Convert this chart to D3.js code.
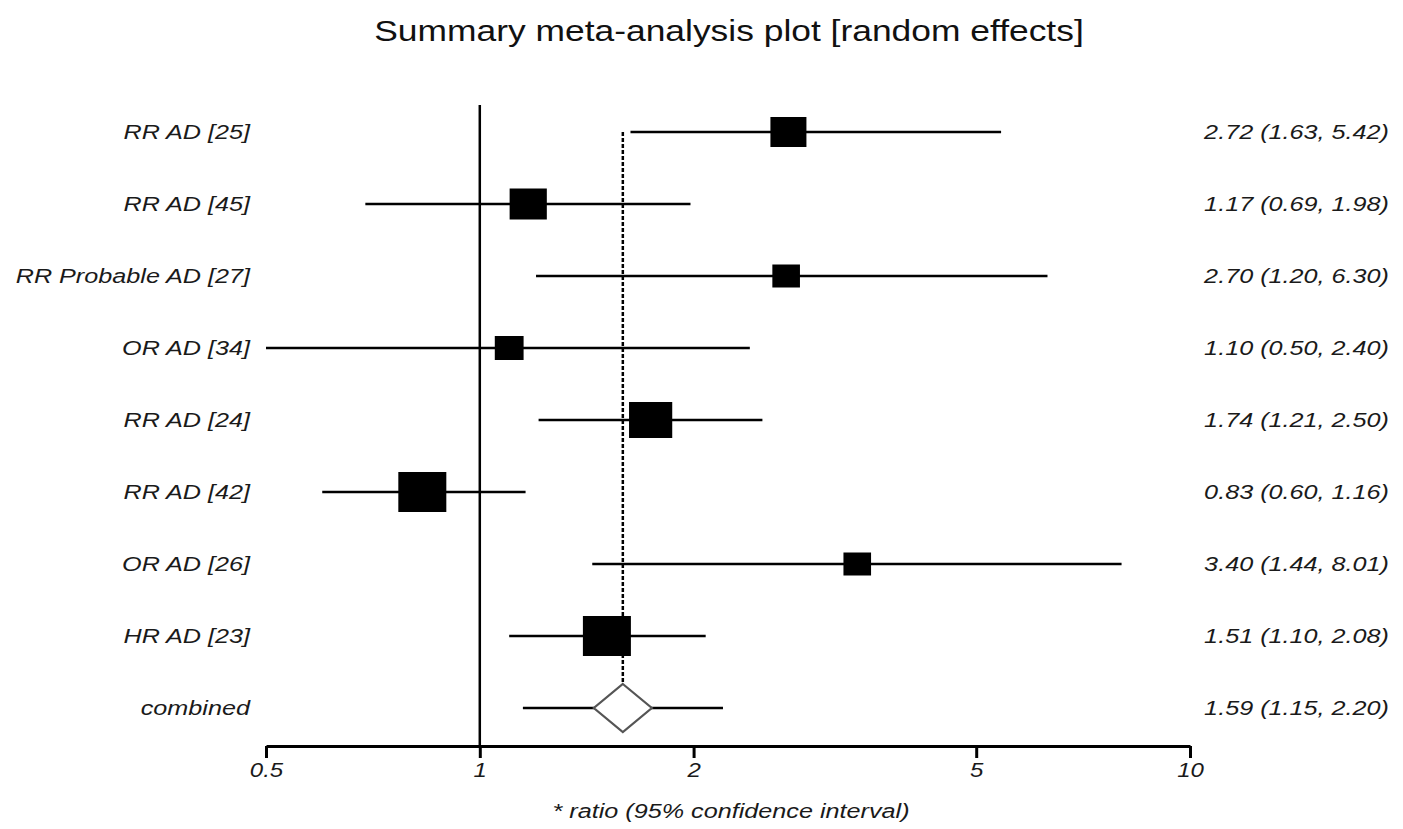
<!DOCTYPE html>
<html>
<head>
<meta charset="utf-8">
<script src="https://cdn.jsdelivr.net/npm/d3@7"></script>
<style>
  html, body { margin: 0; padding: 0; background: #fff; }
  svg { display: block; }
  text { font-family: "Liberation Sans", Arial, Helvetica, sans-serif; }
</style>
</head>
<body>
<svg id="chart" width="1403" height="829"></svg>
<script>
// ---- data ----
const studies = ["RR AD [25]", "RR AD [45]", "RR Probable AD [27]", "OR AD [34]",
                 "RR AD [24]", "RR AD [42]", "OR AD [26]", "HR AD [23]"];
const estimates = [2.72, 1.17, 2.70, 1.10, 1.74, 0.83, 3.40, 1.51];
const lowers    = [1.63, 0.69, 1.20, 0.50, 1.21, 0.60, 1.44, 1.10];
const uppers    = [5.42, 1.98, 6.30, 2.40, 2.50, 1.16, 8.01, 2.08];
const weights   = [30, 31, 23, 24, 36, 40, 23, 40];   // relative box size
const summaryLabel = "combined";
const summaryEst = 1.59, summaryLo = 1.15, summaryHi = 2.20;
const tickValues = [0.5, 1, 2, 5, 10];
const tickLabels = ["0.5", "1", "2", "5", "10"];
const titleText = "Summary meta-analysis plot [random effects]";
const xLabelText = "* ratio (95% confidence interval)";

// ---- layout ----
const svg = d3.select("#chart");
const SX = 1.2; // horizontal stretch of the text
const fmt = d3.format(".2f");

const x = d3.scaleLog().domain([0.5, 10]).range([266, 1190]);
const rows = studies.concat([summaryLabel]);
const y = d3.scalePoint().domain(rows).range([132, 708]);
const boxH = d3.scaleLinear().domain([0, 40]).range([0, 40]);

function stretchedText(g, tx, ty, txt, opts) {
  return g.append("text")
    .attr("transform", `translate(${tx},${ty}) scale(${SX},1)`)
    .attr("text-anchor", opts.anchor || "start")
    .attr("font-size", opts.size)
    .attr("font-style", opts.italic ? "italic" : "normal")
    .attr("fill", opts.fill || "#1a1a1a")
    .text(txt);
}

// title
stretchedText(svg, 729, 41, titleText, {anchor: "middle", size: 29.5, fill: "#111"});

// null line at 1
svg.append("line")
  .attr("x1", x(1)).attr("x2", x(1))
  .attr("y1", 105).attr("y2", 746)
  .attr("stroke", "#000").attr("stroke-width", 2.5);

// summary dotted line
svg.append("line")
  .attr("x1", x(summaryEst)).attr("x2", x(summaryEst))
  .attr("y1", y(studies[0])).attr("y2", y(summaryLabel) - 24)
  .attr("stroke", "#000").attr("stroke-width", 2.5)
  .attr("stroke-dasharray", "4,2");

// study rows
const data = studies.map((s, i) => ({label: s, est: estimates[i], lo: lowers[i], hi: uppers[i], w: weights[i]}));
const rg = svg.append("g");
rg.selectAll("line.ci").data(data).enter().append("line")
  .attr("class", "ci")
  .attr("x1", d => x(d.lo)).attr("x2", d => x(d.hi))
  .attr("y1", d => y(d.label)).attr("y2", d => y(d.label))
  .attr("stroke", "#000").attr("stroke-width", 2.5);
rg.selectAll("rect.box").data(data).enter().append("rect")
  .attr("class", "box")
  .attr("x", d => x(d.est) - boxH(d.w) * SX / 2)
  .attr("y", d => y(d.label) - boxH(d.w) / 2)
  .attr("width", d => boxH(d.w) * SX)
  .attr("height", d => boxH(d.w))
  .attr("fill", "#000");

// summary row
const ys = y(summaryLabel);
svg.append("line")
  .attr("x1", x(summaryLo)).attr("x2", x(summaryHi))
  .attr("y1", ys).attr("y2", ys)
  .attr("stroke", "#000").attr("stroke-width", 2.5);
const cx = x(summaryEst), hw = 29, hh = 24;
svg.append("polygon")
  .attr("points", [[cx, ys - hh], [cx + hw, ys], [cx, ys + hh], [cx - hw, ys]].map(p => p.join(",")).join(" "))
  .attr("fill", "#fff").attr("stroke", "#555").attr("stroke-width", 2.2);

// left labels
rows.forEach(r => {
  stretchedText(svg, 250, y(r) + 7, r, {anchor: "end", size: 21, italic: true});
});
// right labels
data.forEach(d => {
  stretchedText(svg, 1389, y(d.label) + 7, `${fmt(d.est)} (${fmt(d.lo)}, ${fmt(d.hi)})`, {anchor: "end", size: 21, italic: true});
});
stretchedText(svg, 1389, ys + 7, `${fmt(summaryEst)} (${fmt(summaryLo)}, ${fmt(summaryHi)})`, {anchor: "end", size: 21, italic: true});

// x axis
const axis = d3.axisBottom(x)
  .tickValues(tickValues)
  .tickFormat((d, i) => tickLabels[i])
  .tickSize(12)
  .tickSizeOuter(0);
const ag = svg.append("g").attr("transform", "translate(0,746)").call(axis);
ag.select(".domain").attr("stroke", "#000").attr("stroke-width", 3);
ag.selectAll(".tick line").attr("stroke", "#000").attr("stroke-width", 3);
ag.selectAll(".tick text")
  .attr("y", null).attr("dy", null)
  .attr("transform", `translate(0,31) scale(${SX},1)`)
  .attr("font-size", 20).attr("font-style", "italic")
  .attr("font-family", "Liberation Sans, Arial, sans-serif")
  .attr("fill", "#1a1a1a");

// axis label
stretchedText(svg, 731, 818, xLabelText, {anchor: "middle", size: 21, italic: true});
</script>
</body>
</html>
